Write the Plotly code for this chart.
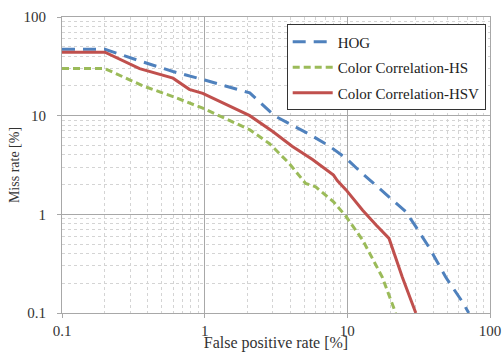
import plotly.graph_objects as go

hog_x = [0.1, 0.2, 0.37, 0.6, 1.0, 1.6, 2.07, 3.08, 4.1, 5.5, 7.5, 9.8, 12.7, 19.6, 25.6, 30.2, 37.5, 49, 64, 71]
hog_y = [47, 47, 35, 28, 23, 19, 17, 10, 8.1, 6.4, 4.9, 3.7, 2.6, 1.5, 1.07, 0.75, 0.46, 0.23, 0.13, 0.1]

hs_x = [0.1, 0.2, 0.37, 0.6, 0.97, 2.07, 2.85, 3.9, 5.1, 6.0, 8.0, 9.8, 12.8, 17.6, 21.8]
hs_y = [30, 30, 20, 15.6, 11.9, 7.2, 5.2, 3.3, 2.06, 1.9, 1.34, 0.95, 0.55, 0.23, 0.1]

hsv_x = [0.1, 0.2, 0.35, 0.6, 0.78, 0.97, 2.07, 3.0, 4.1, 5.7, 8.0, 8.5, 9.8, 12.8, 15.9, 19.6, 24.3, 30.2]
hsv_y = [44, 44, 30, 24, 18.5, 16.8, 10, 6.9, 4.9, 3.6, 2.5, 2.2, 1.77, 1.1, 0.78, 0.57, 0.23, 0.1]

names = ["HOG", "Color Correlation-HS", "Color Correlation-HSV"]
x_ticks = [0.1, 1, 10, 100]
x_tick_labels = ["0.1", "1", "10", "100"]
y_ticks = [0.1, 1, 10, 100]
y_tick_labels = ["0.1", "1", "10", "100"]

SERIF = "Liberation Serif"

fig = go.Figure()
fig.add_trace(go.Scatter(x=hog_x, y=hog_y, mode="lines", name=names[0], legendgroup="a",
                         line=dict(color="#4F81BD", width=3, dash="13px,8px")))
fig.add_trace(go.Scatter(x=hs_x, y=hs_y, mode="lines", name=names[1], legendgroup="b",
                         line=dict(color="#9BBB59", width=3, dash="7px,4px")))
fig.add_trace(go.Scatter(x=hsv_x, y=hsv_y, mode="lines", name=names[2], legendgroup="c",
                         line=dict(color="#C0504D", width=3)))

fig.update_layout(
    width=502, height=352,
    margin=dict(l=62, r=12, t=17, b=39),
    paper_bgcolor="white", plot_bgcolor="white",
    font=dict(family=SERIF, color="#333", size=14),
    showlegend=True,
    legend=dict(x=0.525, y=0.975, xanchor="left", yanchor="top",
                bgcolor="white", bordercolor="#333", borderwidth=1,
                font=dict(family=SERIF, size=15, color="#222"),
                tracegroupgap=3, itemwidth=40),
)
minor_vals = [m * 10 ** e for e in (-1, 0, 1) for m in range(2, 10)]
fig.update_xaxes(type="log", range=[-1, 2], tickvals=x_ticks, ticktext=x_tick_labels,
                 automargin=False,
                 showgrid=True, gridcolor="#a8a8a8", gridwidth=1,
                 showline=True, linecolor="#a8a8a8", mirror=True,
                 ticks="outside", ticklen=4, tickcolor="#a8a8a8",
                 ticklabelstandoff=0,
                 tickfont=dict(family=SERIF, size=15),
                 minor=dict(showgrid=True, gridcolor="#d4d4d4", griddash="dot",
                            tickvals=minor_vals),
                 title=dict(text="False positive rate [%]", standoff=8,
                            font=dict(family=SERIF, size=16)),
                 zeroline=False)
fig.update_yaxes(type="log", range=[-1, 2], tickvals=y_ticks, ticktext=y_tick_labels,
                 automargin=False,
                 showgrid=True, gridcolor="#a8a8a8", gridwidth=1,
                 showline=True, linecolor="#a8a8a8", mirror=True,
                 ticks="outside", ticklen=4, tickcolor="#a8a8a8",
                 ticklabelstandoff=8,
                 tickfont=dict(family=SERIF, size=15),
                 minor=dict(showgrid=True, gridcolor="#d4d4d4", griddash="dot",
                            tickvals=minor_vals),
                 title=dict(text="Miss rate [%]", standoff=0,
                            font=dict(family=SERIF, size=14)),
                 zeroline=False)

fig.write_html("out.html", config={"displayModeBar": False},
               post_script="document.body.style.margin='0';")
